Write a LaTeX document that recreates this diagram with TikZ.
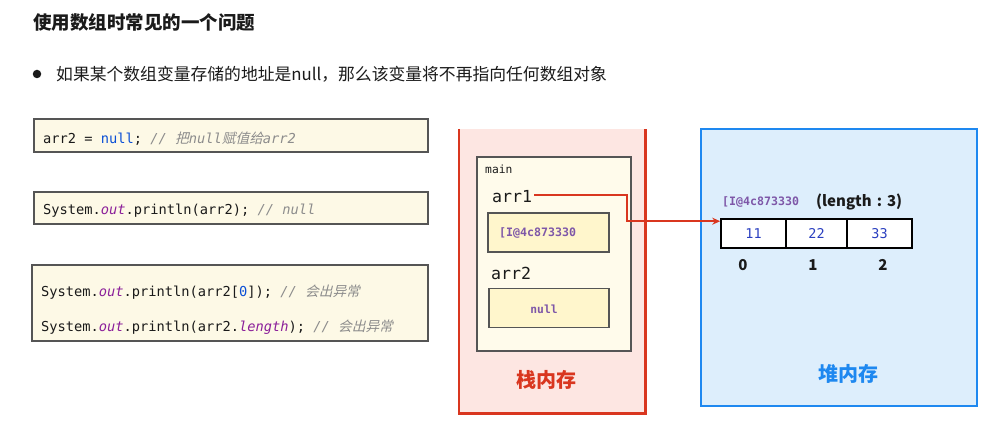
\documentclass[tikz,border=0pt]{standalone}
\usepackage{fontspec}
\setmainfont{Noto Sans CJK SC}
\setmonofont{DejaVu Sans Mono}
\newfontfamily\cjkit{Noto Sans CJK SC}[FakeSlant=0.25]
\usetikzlibrary{arrows.meta}
\definecolor{codefill}{HTML}{FDF9E6}
\definecolor{codeborder}{HTML}{555555}
\definecolor{stackfill}{HTML}{FDE6E2}
\definecolor{stackred}{HTML}{D9361F}
\definecolor{mainfill}{HTML}{FFFBEB}
\definecolor{addrfill}{HTML}{FFF6CC}
\definecolor{heapfill}{HTML}{DDEEFC}
\definecolor{heapblue}{HTML}{1E88F0}
\definecolor{addrpurple}{HTML}{7E57A8}
\definecolor{numblue}{HTML}{2A3FC0}
\definecolor{cgray}{HTML}{8C8C8C}
\definecolor{nullblue}{HTML}{0A4FD6}
\definecolor{outpurple}{HTML}{8B1F9A}
\definecolor{textdark}{HTML}{1A1A1A}
\newcommand{\fs}[1]{\fontsize{#1}{#1}\selectfont}
\tikzset{
  codebox/.style={draw=codeborder, line width=1.6pt, fill=codefill, inner sep=0pt},
  codetext/.style={anchor=west, inner sep=0pt, font=\ttfamily\fs{13.7}, text=textdark},
  innerbox/.style={draw=codeborder, line width=1.2pt, inner sep=0pt},
  vartext/.style={anchor=west, inner sep=0pt, font=\ttfamily\fs{16.6}, text=textdark},
  cell/.style={draw=black, line width=1.6pt, fill=white, inner sep=0pt, minimum height=29pt, font=\ttfamily\fs{13.5}, text=numblue},
  idx/.style={inner sep=0pt, font=\bfseries\fs{15}, text=textdark},
  ptr/.style={draw=stackred, line width=1.8pt, -{Stealth[length=8pt,width=7pt]}},
}
\begin{document}
\begin{tikzpicture}[x=1pt,y=-1pt]
\useasboundingbox (0,0) rectangle (982,438);
% title and bullet
\node[anchor=west, inner sep=0pt, font=\bfseries\fs{18.5}, text=textdark] (title) at (33,22) {使用数组时常见的一个问题};
\node[circle, fill=textdark, minimum size=8.5pt, inner sep=0pt] (dot) at (37,74) {};
\node[anchor=west, inner sep=0pt, font=\fs{16.8}, text=textdark] (bullet) at (56,74) {如果某个数组变量存储的地址是null，那么该变量将不再指向任何数组对象};
% code boxes
\node[codebox, minimum width=394pt, minimum height=33pt] (box1) at (231,135.5) {};
\node[codetext] (l1) at (43,139) {arr2 = {\color{nullblue}null}; {\color{cgray}\itshape // {\cjkit 把}null{\cjkit 赋值给}arr2}};
\node[codebox, minimum width=394pt, minimum height=32pt] (box2) at (231,208) {};
\node[codetext] (l2) at (43,211) {System.{\color{outpurple}\itshape out}.println(arr2); {\color{cgray}\itshape // null}};
\node[codebox, minimum width=396pt, minimum height=76pt] (box3) at (230,303) {};
\node[codetext] (l3) at (41,292) {System.{\color{outpurple}\itshape out}.println(arr2[{\color{nullblue}0}]); {\color{cgray}\itshape // {\cjkit 会出异常}}};
\node[codetext] (l4) at (41,327) {System.{\color{outpurple}\itshape out}.println(arr2.{\color{outpurple}\itshape length}); {\color{cgray}\itshape // {\cjkit 会出异常}}};
% stack memory
\node[fill=stackfill, inner sep=0pt, minimum width=186pt, minimum height=284pt] (stack) at (552,271) {};
\draw[stackred, line width=2.6pt] (stack.north west) -- (stack.south west) -- (stack.south east) -- (stack.north east);
\node[innerbox, fill=mainfill, minimum width=154pt, minimum height=194pt] (mainf) at (554,254) {};
\node[anchor=west, inner sep=0pt, font=\ttfamily\fs{11.3}, text=textdark] (mainlbl) at (485,169) {main};
\node[vartext] (arr1) at (492,197) {arr1};
\node[innerbox, fill=addrfill, minimum width=121pt, minimum height=39pt] (addrbox) at (548.5,232.5) {};
\node[anchor=west, inner sep=0pt, font=\ttfamily\bfseries\fs{11.6}, text=addrpurple] (addr1) at (499,233) {[I@4c873330};
\node[vartext] (arr2) at (491,273) {arr2};
\node[innerbox, fill=addrfill, minimum width=120pt, minimum height=39pt] (nullbox) at (549,308) {};
\node[inner sep=0pt, font=\ttfamily\bfseries\fs{11.3}, text=addrpurple] (nulltxt) at (544,309) {null};
\node[inner sep=0pt, font=\bfseries\fs{20}, text=stackred] (stacklbl) at (546,380) {栈内存};
% heap memory
\node[draw=heapblue, line width=2.6pt, fill=heapfill, inner sep=0pt, minimum width=276pt, minimum height=277pt] (heap) at (839,267.5) {};
\node[anchor=west, inner sep=0pt, font=\ttfamily\bfseries\fs{11.6}, text=addrpurple] (addr2) at (722,202) {[I@4c873330};
\node[anchor=west, inner sep=0pt, font=\bfseries\fs{15}, text=textdark] (len) at (816,202) {(length\hspace{5pt}:\hspace{5pt}3)};
\node[cell, minimum width=65pt] (c0) at (753.5,233.5) {11};
\node[cell, minimum width=61pt] (c1) at (816.5,233.5) {22};
\node[cell, minimum width=65pt] (c2) at (879.5,233.5) {33};
\node[idx] (i0) at (743,265) {0};
\node[idx] (i1) at (813,265) {1};
\node[idx] (i2) at (883,265) {2};
\node[inner sep=0pt, font=\bfseries\fs{20}, text=heapblue] (heaplbl) at (848,374) {堆内存};
% pointer
\coordinate (bend) at (627,0);
\coordinate (tip) at ([yshift=-3pt]c0.north west);
\draw[ptr] ([xshift=2pt,yshift=2pt]arr1.east) -| (bend |- tip) -- (tip);
\end{tikzpicture}
\end{document}
